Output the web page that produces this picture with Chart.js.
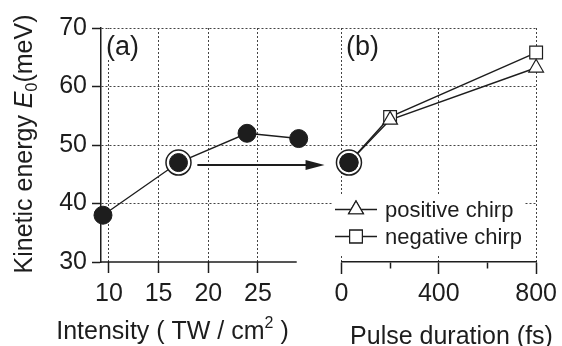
<!DOCTYPE html>
<html>
<head>
<meta charset="utf-8">
<script src="https://cdn.jsdelivr.net/npm/chart.js"></script>
<style>
  html, body { margin: 0; padding: 0; background: #fff; }
  #wrap { position: relative; width: 562px; height: 346px; }
</style>
</head>
<body>
<div id="wrap"><canvas id="energyChart" width="562" height="346"></canvas></div>
<script>
// (a) kinetic energy against laser intensity
var intensity = [9.4, 17, 23.9, 29.1];
var energyA = [38.0, 47.0, 52.0, 51.1];

// (b) kinetic energy against pulse duration, one series per chirp sign
var pulse = [31, 200, 800];
var energyPos = [47.0, 54.3, 63.2];
var energyNeg = [47.0, 54.8, 65.8];
var seriesNames = ['positive chirp', 'negative chirp'];

// axis ticks
var energyTicks = [30, 40, 50, 60, 70];
var intensityTicks = [10, 15, 20, 25];
var pulseTicks = [0, 200, 400, 600, 800];
var pulseLabels = [0, 400, 800];

// where the drawn intensity axis stops, and the arrow between the panels
var intensityAxisEnd = 28.9;
var arrowFrom = 18.9;
var arrowTo = 31.7;
var arrowLevel = 46.6;

var ink = '#1d1d1d';
var gridInk = '#444';
var fam = "'Liberation Sans', Arial, sans-serif";

function pts(xs, ys) {
    return xs.map(function(x, i) { return { x: x, y: ys[i] }; });
}

function setTicks(list) {
    return function(scale) {
        scale.ticks = list.map(function(v) { return { value: v }; });
    };
}

function drawRich(ctx, parts, x, y) {
    var total = 0;
    parts.forEach(function(p) {
        ctx.font = p.font;
        p.w = ctx.measureText(p.t).width;
        total += p.w;
    });
    var cx = x - total / 2;
    parts.forEach(function(p) {
        ctx.font = p.font;
        ctx.fillText(p.t, cx, y + (p.dy || 0));
        cx += p.w;
    });
}

var decor = {
    id: 'decor',
    beforeDatasetsDraw: function(chart) {
        var ctx = chart.ctx, area = chart.chartArea;
        var x1 = chart.scales.x1;
        ctx.save();

        // intensity axis line, it does not run into the gap between panels
        ctx.strokeStyle = ink;
        ctx.lineWidth = 1.5;
        ctx.beginPath();
        ctx.moveTo(x1.left - 0.75, area.bottom);
        ctx.lineTo(x1.getPixelForValue(intensityAxisEnd), area.bottom);
        ctx.stroke();

        // panel letters sit on white
        ctx.fillStyle = '#fff';
        ctx.fillRect(area.left + 1, area.top + 1, 40, 31);
        ctx.fillRect(345, area.top + 1, 37, 31);
        ctx.fillStyle = ink;
        ctx.font = '27px ' + fam;
        ctx.textBaseline = 'alphabetic';
        ctx.textAlign = 'left';
        ctx.fillText('(a)', 106, 55);
        ctx.fillText('(b)', 346, 55);

        // legend
        ctx.fillStyle = '#fff';
        ctx.fillRect(333, 196, 191, 60);
        var styles = ['triangle', 'rect'];
        var radii = [8.5, 9];
        for (var i = 0; i < seriesNames.length; i++) {
            var ly = 209.5 + i * 27;
            ctx.strokeStyle = ink;
            ctx.lineWidth = 1.4;
            ctx.beginPath();
            ctx.moveTo(335, ly);
            ctx.lineTo(377, ly);
            ctx.stroke();
            ctx.fillStyle = '#fff';
            ctx.lineWidth = 1.2;
            Chart.helpers.drawPoint(ctx, { pointStyle: styles[i], radius: radii[i], borderWidth: 1.2, rotation: 0 }, 356, ly);
            ctx.fill();
            ctx.stroke();
            ctx.fillStyle = ink;
            ctx.font = '22px ' + fam;
            ctx.fillText(seriesNames[i], 385, ly + 7.5);
        }
        ctx.restore();
    },
    afterDatasetsDraw: function(chart) {
        var ctx = chart.ctx;
        var x1 = chart.scales.x1, y = chart.scales.y;
        var xa = x1.getPixelForValue(arrowFrom);
        var xb = x1.getPixelForValue(arrowTo);
        var ya = y.getPixelForValue(arrowLevel);
        ctx.save();
        ctx.strokeStyle = ink;
        ctx.fillStyle = ink;
        ctx.lineWidth = 2;
        ctx.beginPath();
        ctx.moveTo(xa, ya);
        ctx.lineTo(xb - 15, ya);
        ctx.stroke();
        ctx.beginPath();
        ctx.moveTo(xb, ya);
        ctx.lineTo(xb - 19, ya - 5);
        ctx.lineTo(xb - 19, ya + 5);
        ctx.closePath();
        ctx.fill();
        ctx.restore();
    },
    afterDraw: function(chart) {
        var ctx = chart.ctx;
        ctx.save();
        ctx.fillStyle = ink;
        ctx.textBaseline = 'alphabetic';
        ctx.textAlign = 'left';
        var big = '25px ' + fam;
        var small = '16px ' + fam;

        // y title, rotated
        ctx.save();
        ctx.translate(32, 144);
        ctx.rotate(-Math.PI / 2);
        drawRich(ctx, [
            { t: 'Kinetic energy ', font: big },
            { t: 'E', font: 'italic ' + big },
            { t: '0', font: small, dy: 5 },
            { t: '(meV)', font: big }
        ], 0, 0);
        ctx.restore();

        drawRich(ctx, [
            { t: 'Intensity ( TW / cm', font: big },
            { t: '2', font: small, dy: -11 },
            { t: ' )', font: big }
        ], 172.5, 339);

        drawRich(ctx, [{ t: 'Pulse duration (fs)', font: big }], 451.5, 344);
        ctx.restore();
    }
};

var tickFont = { family: fam, size: 25 };

new Chart(document.getElementById('energyChart'), {
    type: 'line',
    data: {
        datasets: [
            {
                label: 'intensity points',
                xAxisID: 'x1',
                data: pts(intensity, energyA),
                showLine: false,
                pointRadius: 9,
                pointBackgroundColor: ink,
                pointBorderColor: ink,
                pointBorderWidth: 1,
                clip: false
            },
            {
                label: seriesNames[0] + ' points',
                xAxisID: 'x2',
                data: pts(pulse, energyPos),
                showLine: false,
                pointStyle: ['circle', 'triangle', 'triangle'],
                pointRadius: [9, 8.5, 8.5],
                pointBackgroundColor: [ink, '#fff', '#fff'],
                pointBorderColor: ink,
                pointBorderWidth: 1.2,
                clip: false
            },
            {
                label: seriesNames[1] + ' points',
                xAxisID: 'x2',
                data: pts(pulse, energyNeg),
                showLine: false,
                pointStyle: ['circle', 'rect', 'rect'],
                pointRadius: [9, 9, 9],
                pointBackgroundColor: [ink, '#fff', '#fff'],
                pointBorderColor: ink,
                pointBorderWidth: 1.2,
                clip: false
            },
            {
                label: 'ring a',
                xAxisID: 'x1',
                data: [{ x: intensity[1], y: energyA[1] }],
                showLine: false,
                pointRadius: 12.5,
                pointBackgroundColor: '#fff',
                pointBorderColor: ink,
                pointBorderWidth: 1.5,
                clip: false
            },
            {
                label: 'ring b',
                xAxisID: 'x2',
                data: [{ x: pulse[0], y: energyPos[0] }],
                showLine: false,
                pointRadius: 12.5,
                pointBackgroundColor: '#fff',
                pointBorderColor: ink,
                pointBorderWidth: 1.5,
                clip: false
            },
            {
                label: 'intensity line',
                xAxisID: 'x1',
                data: pts(intensity, energyA),
                pointRadius: 0,
                borderColor: ink,
                borderWidth: 1.4,
                tension: 0,
                clip: false
            },
            {
                label: seriesNames[0],
                xAxisID: 'x2',
                data: pts(pulse, energyPos),
                pointRadius: 0,
                borderColor: ink,
                borderWidth: 1.4,
                tension: 0,
                clip: false
            },
            {
                label: seriesNames[1],
                xAxisID: 'x2',
                data: pts(pulse, energyNeg),
                pointRadius: 0,
                borderColor: ink,
                borderWidth: 1.4,
                tension: 0,
                clip: false
            }
        ]
    },
    options: {
        responsive: false,
        animation: false,
        events: [],
        layout: { padding: { left: 0, top: 28, right: 23, bottom: 0 } },
        plugins: {
            legend: { display: false },
            tooltip: { enabled: false }
        },
        scales: {
            x1: {
                type: 'linear',
                position: 'bottom',
                stack: 'panels',
                stackWeight: 242,
                weight: 0,
                min: 9.2,
                max: 33.4,
                afterBuildTicks: setTicks(intensityTicks),
                afterFit: function(scale) { scale.height = 84; },
                border: { display: false, dash: [2, 2] },
                grid: {
                    color: gridInk,
                    lineWidth: 1,
                    tickLength: 11,
                    tickColor: ink,
                    tickWidth: 1.5
                },
                ticks: {
                    font: tickFont,
                    color: ink,
                    padding: 6,
                    maxRotation: 0,
                    autoSkip: false
                }
            },
            x2: {
                type: 'linear',
                position: 'bottom',
                stack: 'panels',
                stackWeight: 196,
                weight: 1,
                min: 0,
                max: 800,
                afterBuildTicks: setTicks(pulseTicks),
                afterFit: function(scale) { scale.height = 84; },
                border: { display: true, color: ink, width: 1.5, dash: [2, 2] },
                grid: {
                    color: function(c) {
                        return c.tick && pulseLabels.indexOf(c.tick.value) >= 0 ? gridInk : 'rgba(0,0,0,0)';
                    },
                    lineWidth: 1,
                    tickLength: 12,
                    tickColor: ink,
                    tickWidth: 1.5,
                    tickBorderDash: function(c) {
                        return c.tick && pulseLabels.indexOf(c.tick.value) >= 0 ? [] : [6, 40];
                    }
                },
                ticks: {
                    font: tickFont,
                    color: ink,
                    padding: 5,
                    maxRotation: 0,
                    autoSkip: false,
                    callback: function(v) {
                        return pulseLabels.indexOf(v) >= 0 ? String(v) : '';
                    }
                }
            },
            y: {
                type: 'linear',
                position: 'left',
                min: 30,
                max: 70,
                afterBuildTicks: setTicks(energyTicks),
                afterFit: function(scale) { scale.width = 101; },
                border: { display: true, color: ink, width: 1.5, dash: [2, 2] },
                grid: {
                    color: function(c) {
                        return c.tick && c.tick.value === energyTicks[0] ? 'rgba(0,0,0,0)' : gridInk;
                    },
                    lineWidth: 1,
                    tickLength: 9,
                    tickColor: ink,
                    tickWidth: 1.5
                },
                ticks: {
                    font: tickFont,
                    color: ink,
                    padding: 5
                }
            }
        }
    },
    plugins: [decor]
});
</script>
</body>
</html>
